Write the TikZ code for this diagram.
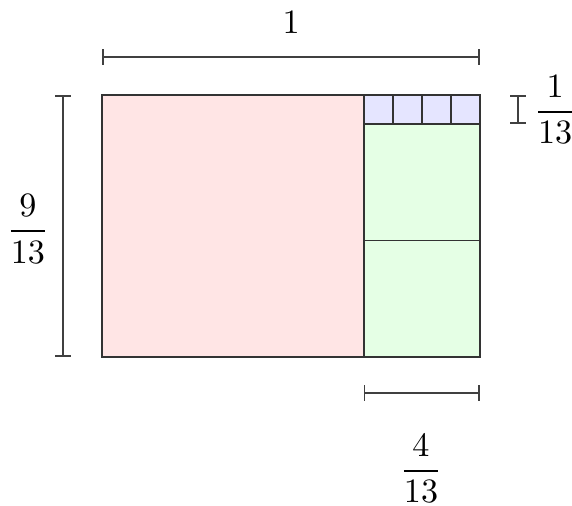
\documentclass[tikz,border=0pt]{standalone}
\usepackage{amsmath}
\usetikzlibrary{arrows.meta}
\begin{document}
\begin{tikzpicture}[x=8.52pt,y=-8.52pt,
  cell/.style={draw=black!80,line width=0.5pt},
  dimline/.style={draw=black!75,line width=0.5pt,{Bar[width=4.5pt]}-{Bar[width=4.5pt]}},
  lab/.style={inner sep=0pt}]
\useasboundingbox (-3.508,-3.267) rectangle (16.162,14.133);
% shapes
\fill[red!10] (0,0) rectangle (9,9);
\fill[green!10] (9,1) rectangle (13,9);
\fill[blue!10] (9,0) rectangle (13,1);
\draw[cell] (0,0) rectangle (13,9);
\draw[cell] (9,0) -- (9,9);
\draw[cell] (9,1) -- (13,1);
\draw[cell] (9,5) -- (13,5);
\foreach \i in {10,11,12} \draw[cell] (\i,0) -- (\i,1);
% dimension lines
\coordinate (t1) at (0,-1.31);
\coordinate (t2) at (13,-1.31);
\draw[dimline] (t1) -- (t2);
\node[lab] (l1) at (6.5,-2.5) {$1$};
\coordinate (v1) at (-1.34,0);
\coordinate (v2) at (-1.34,9);
\draw[dimline] (v1) -- (v2);
\node[lab] (l9) at (-2.55,4.6) {$\dfrac{9}{13}$};
\coordinate (s1) at (14.3,0);
\coordinate (s2) at (14.3,1);
\draw[dimline] (s1) -- (s2);
\node[lab] (l113) at (15.58,0.5) {$\dfrac{1}{13}$};
\coordinate (b1) at (9,10.25);
\coordinate (b2) at (13,10.25);
\draw[dimline] (b1) -- (b2);
\node[lab] (l4) at (10.97,12.85) {$\dfrac{4}{13}$};
\end{tikzpicture}
\end{document}
